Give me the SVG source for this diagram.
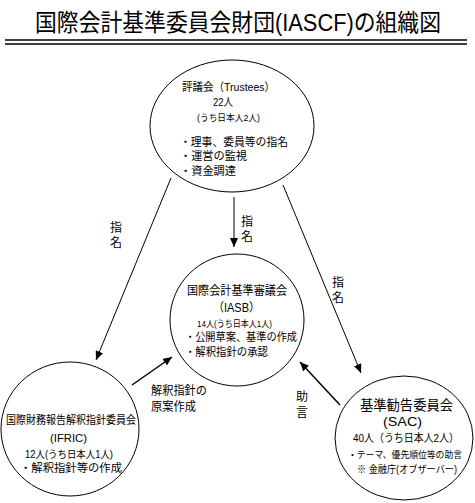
<svg xmlns="http://www.w3.org/2000/svg" width="475" height="503" viewBox="0 0 475 503">
<defs>
<style>
text{font-family:"Liberation Sans","Noto Sans CJK JP",sans-serif;fill:#000}
.node ellipse{fill:#fff;stroke:#000;stroke-width:1}
.c line{stroke:#000;stroke-width:1}
.c .t{stroke-width:1.5}
.mid{text-anchor:middle}
</style>
<marker id="ah" markerWidth="10" markerHeight="8" refX="9" refY="4" orient="auto" markerUnits="userSpaceOnUse">
<path d="M0,0 L9,4 L0,8 z" fill="#000"/>
</marker>
</defs>
<rect width="475" height="503" fill="#fff"/>
<g id="title">
<text x="35" y="31" font-size="23.5" textLength="406" lengthAdjust="spacingAndGlyphs">国際会計基準委員会財団(IASCF)の組織図</text>
<line x1="5" y1="40" x2="467" y2="40" stroke="#000" stroke-width="1.5"/>
<line x1="5" y1="44" x2="467" y2="44" stroke="#000" stroke-width="1.5"/>
</g>
<g class="c" id="connectors">
<line x1="171" y1="178" x2="96" y2="360" marker-end="url(#ah)"/>
<line x1="234" y1="197" x2="234" y2="247" marker-end="url(#ah)"/>
<line x1="283" y1="185" x2="361" y2="373" marker-end="url(#ah)"/>
<line class="t" x1="132" y1="385" x2="172" y2="357" marker-end="url(#ah)"/>
<line class="t" x1="340" y1="405" x2="300" y2="362" marker-end="url(#ah)"/>
<text class="mid" x="116" y="232" font-size="12">指</text>
<text class="mid" x="116" y="247" font-size="12">名</text>
<text class="mid" x="247" y="226" font-size="12">指</text>
<text class="mid" x="247" y="241" font-size="12">名</text>
<text class="mid" x="338" y="287" font-size="12">指</text>
<text class="mid" x="338" y="302" font-size="12">名</text>
<text x="151" y="395" font-size="12" textLength="56" lengthAdjust="spacingAndGlyphs">解釈指針の</text>
<text x="151" y="411" font-size="12" textLength="45" lengthAdjust="spacingAndGlyphs">原案作成</text>
<text class="mid" x="302" y="401" font-size="12">助</text>
<text class="mid" x="302" y="417" font-size="12">言</text>
</g>
<g class="node" id="trustees">
<ellipse cx="232" cy="126" rx="82" ry="66"/>
<text x="182" y="91" font-size="11" textLength="93" lengthAdjust="spacingAndGlyphs">評議会（Trustees）</text>
<text x="213" y="106" font-size="11" textLength="20" lengthAdjust="spacingAndGlyphs">22人</text>
<text x="197" y="121" font-size="9" textLength="63" lengthAdjust="spacingAndGlyphs">(うち日本人2人)</text>
<text x="180" y="146" font-size="11" textLength="108" lengthAdjust="spacingAndGlyphs">・理事、委員等の指名</text>
<text x="180" y="160" font-size="11" textLength="67" lengthAdjust="spacingAndGlyphs">・運営の監視</text>
<text x="180" y="175" font-size="11" textLength="56" lengthAdjust="spacingAndGlyphs">・資金調達</text>
</g>
<g class="node" id="iasb">
<ellipse cx="237" cy="320" rx="67" ry="66"/>
<text x="187" y="295" font-size="12" textLength="100" lengthAdjust="spacingAndGlyphs">国際会計基準審議会</text>
<text x="213" y="312" font-size="12" textLength="47" lengthAdjust="spacingAndGlyphs">（IASB）</text>
<text x="197" y="327" font-size="9" textLength="75" lengthAdjust="spacingAndGlyphs">14人(うち日本人1人)</text>
<text x="185" y="341" font-size="11" textLength="112" lengthAdjust="spacingAndGlyphs">・公開草案、基準の作成</text>
<text x="185" y="356" font-size="11" textLength="83" lengthAdjust="spacingAndGlyphs">・解釈指針の承認</text>
</g>
<g class="node" id="ifric">
<ellipse cx="70" cy="429" rx="69" ry="67"/>
<text x="6" y="424" font-size="11" textLength="130" lengthAdjust="spacingAndGlyphs">国際財務報告解釈指針委員会</text>
<text x="50" y="442" font-size="11" textLength="37" lengthAdjust="spacingAndGlyphs">(IFRIC)</text>
<text x="25" y="458" font-size="10.5" textLength="88" lengthAdjust="spacingAndGlyphs">12人(うち日本人1人)</text>
<text x="20" y="472" font-size="11" textLength="102" lengthAdjust="spacingAndGlyphs">・解釈指針等の作成</text>
</g>
<g class="node" id="sac">
<ellipse cx="404" cy="438" rx="69" ry="62"/>
<text x="360" y="410" font-size="14" textLength="93" lengthAdjust="spacingAndGlyphs">基準勧告委員会</text>
<text x="383" y="426" font-size="12" textLength="39" lengthAdjust="spacingAndGlyphs">(SAC)</text>
<text x="353" y="442" font-size="11" textLength="106" lengthAdjust="spacingAndGlyphs">40人（うち日本人2人）</text>
<text x="348" y="458" font-size="9.5" textLength="114" lengthAdjust="spacingAndGlyphs">・テーマ、優先順位等の助言</text>
<text x="357" y="473" font-size="10" textLength="100" lengthAdjust="spacingAndGlyphs">※ 金融庁(オブザーバー)</text>
</g>
</svg>
